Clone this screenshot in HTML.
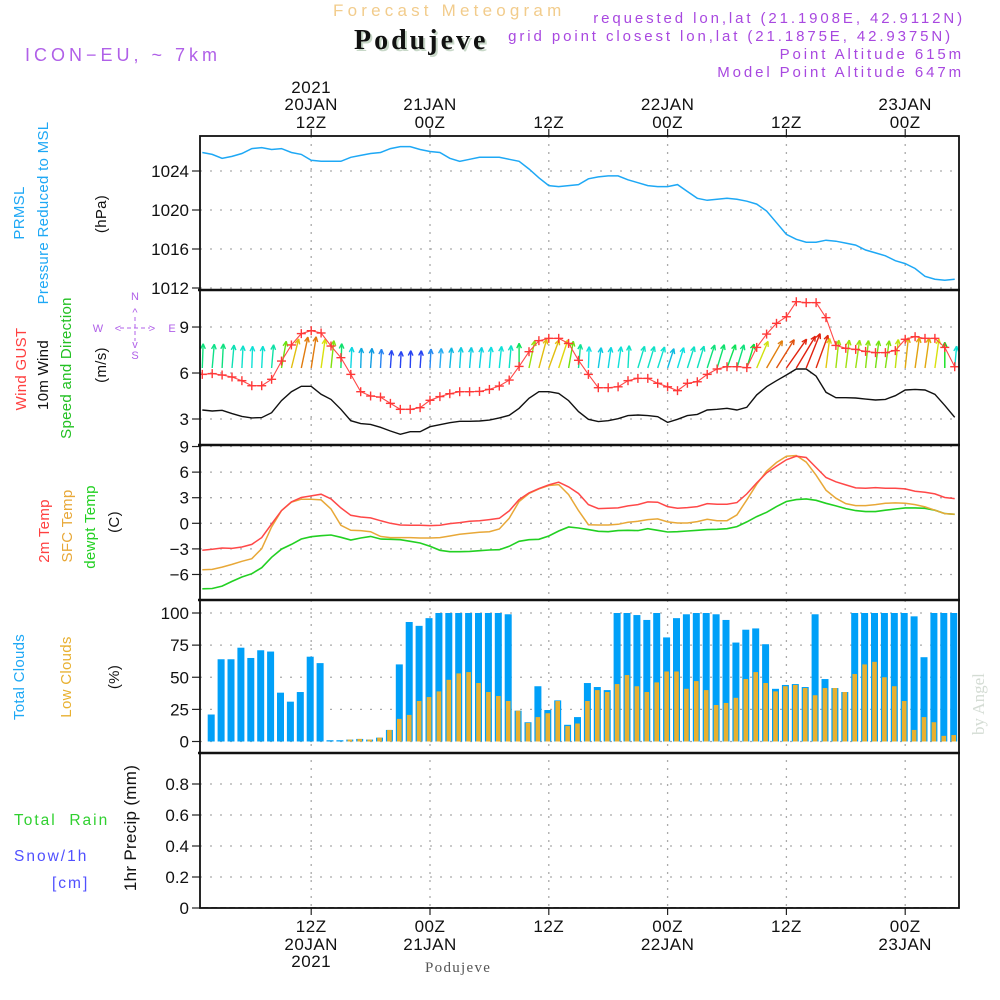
<!DOCTYPE html>
<html><head><meta charset="utf-8"><title>Meteogram Podujeve</title>
<style>
html,body{margin:0;padding:0;background:#fff;}
svg{display:block;font-family:"Liberation Sans",sans-serif;}
.pre{white-space:pre;}
</style></head>
<body>
<svg id="chart" width="1000" height="1000" viewBox="0 0 1000 1000" xmlns="http://www.w3.org/2000/svg">
<rect width="1000" height="1000" fill="#fff"/>
<g id="header">
 <text x="333" y="16" font-size="17" fill="#f2cc8c" letter-spacing="4.2">Forecast Meteogram</text>
 <text x="354" y="49" font-family="Liberation Serif,serif" font-weight="bold" font-size="28" fill="#c8d8c8" letter-spacing="3" transform="translate(2,2)">Podujeve</text>
 <text x="354" y="49" font-family="Liberation Serif,serif" font-weight="bold" font-size="28" fill="#111" letter-spacing="3">Podujeve</text>
 <text x="25" y="61" font-size="18" fill="#b060e8" letter-spacing="4">ICON−EU, ~ 7km</text>
 <g font-size="15" fill="#a848e0" text-anchor="end" letter-spacing="2.9">
  <text x="965" y="23">requested lon,lat (21.1908E, 42.9112N)</text>
  <text x="953" y="41">grid point closest lon,lat (21.1875E, 42.9375N)</text>
  <text x="964" y="59">Point Altitude 615m</text>
  <text x="964" y="77">Model Point Altitude 647m</text>
 </g>
</g>
<g id="labels"></g>
<g id="grid"></g>
<g id="marks"></g>
<g id="frame"></g>
<text transform="translate(984,735) rotate(-90)" font-family="Liberation Serif,serif" font-size="17" fill="#d4dcd4">by Angel</text>
<text x="425" y="972" font-family="Liberation Serif,serif" font-size="15" fill="#555" letter-spacing="1.3">Podujeve</text>
</svg>
<script>
// ---- data (hours from 00Z 20 JAN 2021) ----
const pressure = [1025.9,1025.7,1025.3,1025.5,1025.8,1026.3,1026.4,1026.2,1026.3,1025.9,1025.7,1025.1,1025.0,1025.0,1025.0,1025.4,1025.6,1025.8,1025.9,1026.3,1026.5,1026.5,1026.2,1026.0,1025.9,1025.3,1025.0,1025.2,1025.4,1025.4,1025.4,1025.2,1025.0,1024.2,1023.3,1022.5,1022.4,1022.5,1022.6,1023.2,1023.4,1023.5,1023.5,1023.1,1022.8,1022.5,1022.4,1022.4,1022.6,1021.9,1021.2,1021.0,1021.1,1021.2,1021.1,1020.9,1020.6,1019.9,1018.7,1017.5,1017.0,1016.7,1016.7,1016.9,1016.8,1016.6,1016.4,1015.9,1015.6,1015.3,1014.8,1014.5,1014.0,1013.2,1012.9,1012.8,1012.9];
const gust = [5.91,5.96,5.87,5.74,5.5,5.17,5.17,5.59,6.78,7.83,8.57,8.76,8.61,7.76,7.0,5.91,4.78,4.5,4.43,4.02,3.63,3.63,3.74,4.22,4.46,4.65,4.78,4.78,4.8,4.93,5.15,5.54,6.43,7.39,8.11,8.26,8.26,7.93,6.83,5.91,5.04,5.04,5.1,5.5,5.65,5.65,5.33,5.1,4.85,5.33,5.43,5.91,6.26,6.41,6.41,6.35,7.67,8.54,9.24,9.67,10.65,10.59,10.59,9.61,7.8,7.61,7.54,7.41,7.33,7.33,7.46,8.2,8.37,8.26,8.26,7.67,6.41];
const wind10 = [3.59,3.52,3.57,3.35,3.17,3.07,3.09,3.41,4.2,4.78,5.13,5.13,4.61,4.28,3.63,2.89,2.7,2.65,2.46,2.22,2.0,2.17,2.17,2.5,2.63,2.76,2.85,2.85,2.87,2.93,3.07,3.24,3.7,4.35,4.78,4.78,4.67,4.2,3.48,2.98,2.83,2.89,3.02,3.22,3.26,3.22,3.15,2.78,2.98,3.22,3.3,3.59,3.63,3.7,3.59,3.76,4.57,5.11,5.5,5.87,6.26,6.26,5.8,4.74,4.39,4.39,4.37,4.3,4.24,4.28,4.52,4.89,4.93,4.89,4.61,3.89,3.11];
const windDir = [2,5,3,5,3,2,3,5,10,14,12,9,8,6,2,3,2,4,3,4,3,2,4,3,4,5,4,5,6,5,6,5,0,12,15,20,18,10,5,2,8,8,8,3,17,17,18,18,17,18,17,18,17,20,17,17,23,30,32,35,31,22,20,7,6,7,8,6,7,8,6,6,8,8,8,0,5];
const temp2m = [-3.17,-3.05,-2.9,-2.94,-2.78,-2.47,-1.68,-0.08,1.49,2.51,3.02,3.21,3.41,2.86,1.8,0.94,0.74,0.63,0.31,0,-0.2,-0.23,-0.23,-0.27,-0.23,-0.04,0.08,0.23,0.31,0.43,0.59,1.45,2.78,3.56,4.07,4.5,4.82,4.27,3.49,2.19,1.72,1.76,1.8,2.04,2.19,2.51,2.47,1.96,1.76,1.84,1.96,2.31,2.23,2.23,2.43,3.45,4.74,5.91,6.7,7.44,7.87,7.71,6.54,5.37,4.86,4.5,4.15,4.11,4.19,4.11,4.11,4.03,3.76,3.64,3.45,3.02,2.9];
const tempSfc = [-5.44,-5.4,-5.13,-4.82,-4.46,-4.15,-2.98,-0.43,1.49,2.47,2.82,2.82,2.74,1.68,-0.23,-0.82,-0.86,-0.98,-1.53,-1.68,-1.68,-1.68,-1.72,-1.72,-1.68,-1.49,-1.29,-1.17,-1.06,-0.98,-0.67,0.59,2.55,3.49,4.03,4.43,4.54,3.37,1.49,-0.16,-0.2,-0.2,-0.12,0.12,0.23,0.43,0.51,0.16,0.04,0.04,0.2,0.47,0.31,0.31,0.98,2.74,4.58,6.11,7.13,7.87,7.95,7.17,5.64,3.88,2.94,2.31,2.08,2.08,2.19,2.35,2.39,2.35,2.19,1.92,1.53,1.14,1.06];
const dewpt = [-7.68,-7.64,-7.36,-6.81,-6.3,-5.91,-5.21,-3.99,-3.02,-2.47,-1.84,-1.57,-1.45,-1.37,-1.64,-1.96,-1.72,-1.53,-1.84,-1.88,-1.92,-2.11,-2.31,-2.7,-3.17,-3.33,-3.33,-3.29,-3.21,-3.13,-3.09,-2.7,-2.11,-1.92,-1.88,-1.49,-0.9,-0.43,-0.55,-0.74,-0.94,-0.98,-0.86,-0.82,-0.86,-0.63,-0.82,-1.02,-0.98,-0.9,-0.82,-0.74,-0.7,-0.63,-0.39,0.16,0.78,1.29,1.96,2.55,2.78,2.86,2.7,2.35,2.04,1.72,1.49,1.37,1.37,1.53,1.68,1.8,1.8,1.76,1.53,1.14,1.06];
// clouds start at hour 2
const totalClouds = [21,64,64,73,65,71,70,38,31,38.5,66,61,1,1,1.5,2,1.5,3,9,60,93,90,96,100,100,100,100,100,100,100,99,24,15,43,24.5,32,13,19,45.5,42.4,40,100,100,98.4,94.6,100,81,96,99,100,100,99,94.6,77,87,88,75.7,41,44,44.7,42.4,99,48.6,41.6,38.5,100,100,100,100,100,100,97.4,65.6,100,100,100];
const lowClouds = [0,0,0,0,0,0,0,0,0,0,0,0,0,0,1.5,2,1.5,3,9,17.6,20.7,31.5,34.6,39,48,53,54,45.5,38.5,35.4,31.5,24,14.5,19,22,31.5,12,14,31.5,40,38.5,44.7,51.7,43,38.5,46,54.5,54.5,41,47,40,28.4,30,34,48.6,54,45.5,39,43,44,41.6,36,41.6,41.6,38.5,52.5,60,62,50,43,31.5,9,19,15,4.4,5];
const precip = new Array(77).fill(0);
const firstHour = 1, cloudFirstHour = 2;
const presTicks = [1012,1016,1020,1024];
const windTicks = [3,6,9];
const tempTicks = [-6,-3,0,3,6,9];
const cloudTicks = [0,25,50,75,100];
const precipTicks = [0,0.2,0.4,0.6,0.8];
const timeHours = [12,24,36,48,60,72];
const topLabels = [["2021","20JAN","12Z"],["","21JAN","00Z"],["","","12Z"],["","22JAN","00Z"],["","","12Z"],["","23JAN","00Z"]];
const botLabels = [["12Z","20JAN","2021"],["00Z","21JAN",""],["12Z","",""],["00Z","22JAN",""],["12Z","",""],["00Z","23JAN",""]];

// ---- scales ----
const X0=200, X1=959;
const xh = h => 430 + (h-24)*9.9;
const yP = p => 288 - (p-1012)*9.75;
const yW = v => 419 - (v-3)*15.33;
const yT = t => 523.3 - t*8.53;
const yC = c => 741.5 - c*1.285;
const yR = r => 908 - r*155;
const NS="http://www.w3.org/2000/svg";
function mk(tag, attrs, parent){const e=document.createElementNS(NS,tag);for(const k in attrs)e.setAttribute(k,attrs[k]);parent.appendChild(e);return e;}
const G=document.getElementById('grid'), M=document.getElementById('marks'), F=document.getElementById('frame'), L=document.getElementById('labels');
const panels=[[136,290],[290,445],[445,600],[600,753],[753,908]];

const defs=mk('defs',{},document.getElementById('chart'));
panels.forEach((p,i)=>{const c=mk('clipPath',{id:'clip'+i},defs);mk('rect',{x:X0,y:p[0],width:X1-X0,height:p[1]-p[0]},c);});

timeHours.forEach(h=>{
  const gl=mk('line',{x1:xh(h),x2:xh(h),y1:136,y2:908,stroke:'#aaa','stroke-width':1.3,'stroke-dasharray':'2,6'},G);
  
  
  mk('line',{x1:xh(h),x2:xh(h),y1:129,y2:136,stroke:'#222','stroke-width':1.2},F);
  mk('line',{x1:xh(h),x2:xh(h),y1:908,y2:915,stroke:'#222','stroke-width':1.2},F);
});
function yAxis(ticks, sc, fmt, name){
  ticks.forEach(v=>{
    const y=sc(v);
    const gl=mk('line',{x1:X0,x2:X1,y1:y,y2:y,stroke:'#aaa','stroke-width':1.3,'stroke-dasharray':'2,8'},G);
    
    
    mk('line',{x1:X0-8,x2:X0,y1:y,y2:y,stroke:'#222','stroke-width':1.2},F);
    const t=mk('text',{x:X0-11,y:y+6,'text-anchor':'end','font-size':17,fill:'#111'},F);
    t.textContent=fmt(v);
    
    
  });
}
yAxis(presTicks,yP,v=>v,'pressure');
yAxis(windTicks,yW,v=>v,'wind');
yAxis(tempTicks,yT,v=>v<0?'−'+(-v):v,'temp');
yAxis(cloudTicks,yC,v=>v,'cloud');
yAxis(precipTicks,yR,v=>v===0?'0':v.toFixed(1),'precip');

timeHours.forEach((h,i)=>{
  [93,110,128].forEach((y,j)=>{ if(topLabels[i][j]){const t=mk('text',{x:xh(h),y:y,'text-anchor':'middle','font-size':17,fill:'#111','letter-spacing':0.5},F);t.textContent=topLabels[i][j];
    
    }});
  [932,950,967].forEach((y,j)=>{ if(botLabels[i][j]){const t=mk('text',{x:xh(h),y:y,'text-anchor':'middle','font-size':17,fill:'#111','letter-spacing':0.5},F);t.textContent=botLabels[i][j];
    
    }});
});

function line(arr, sc, color, clip, name, w){
  const pts=arr.map((v,i)=>xh(firstHour+i).toFixed(1)+','+sc(v).toFixed(1)).join(' ');
  const p=mk('polyline',{points:pts,fill:'none',stroke:color,'stroke-width':w||1.5,'clip-path':'url(#clip'+clip+')'},M);
  
  
  return p;
}
line(pressure,yP,'#1ea8f5',0,'pressure-line');

const cg=mk('g',{'clip-path':'url(#clip3)'},M);
totalClouds.forEach((v,i)=>{
  const x=xh(cloudFirstHour+i)-1;
  const b=mk('rect',{x:x-3.5,y:yC(v),width:7,height:yC(0)-yC(v),fill:'#00a0f8'},cg);
  
  
  const lv=lowClouds[i];
  if(lv>0){const lb=mk('rect',{x:x-2.3,y:yC(lv),width:4.6,height:yC(0)-yC(lv),fill:'#e8b030'},cg);
    
    }
});

function hueFor(s){
  const st=[[2.2,232],[2.9,182],[3.3,170],[3.6,150],[4.3,85],[4.7,55],[5.1,32],[5.9,5]];
  if(s<=st[0][0])return st[0][1];
  for(let i=1;i<st.length;i++){if(s<=st[i][0]){const a=st[i-1],b=st[i];return a[1]+(b[1]-a[1])*(s-a[0])/(b[0]-a[0]);}}
  return st[st.length-1][1];
}
const ag=mk('g',{'clip-path':'url(#clip1)'},M);
wind10.forEach((s,i)=>{
  const x=xh(firstHour+i), y=368;
  const a=windDir[i]*Math.PI/180, len=7+4.8*s;
  const tx=x+Math.sin(a)*len, ty=y-Math.cos(a)*len;
  const hu=hueFor(s);
  const col='hsl('+hu.toFixed(0)+',88%,'+(hu>200?'55%':'47%')+')';
  const g=mk('g',{stroke:col,'stroke-width':1.4,fill:'none'},ag);
  
  
  mk('line',{x1:x,y1:y,x2:tx,y2:ty},g);
  [25,-25].forEach(d=>{const b=a+Math.PI+d*Math.PI/180;mk('line',{x1:tx,y1:ty,x2:tx+Math.sin(b)*5.5,y2:ty-Math.cos(b)*5.5},g);});
});
line(wind10,yW,'#111',1,'wind-10m-line',1.4);
line(gust,yW,'#ff4848',1,'gust-line',1.1);
gust.forEach((v,i)=>{
  const x=xh(firstHour+i), y=yW(v);
  const g=mk('g',{stroke:'#ff3838','stroke-width':1.4,'clip-path':'url(#clip1)'},M);
  
  
  mk('line',{x1:x-4.5,x2:x+4.5,y1:y,y2:y},g);mk('line',{x1:x,x2:x,y1:y-4.5,y2:y+4.5},g);
});
line(dewpt,yT,'#22d022',2,'dewpoint-line',1.6);
line(tempSfc,yT,'#e8a838',2,'sfc-temp-line',1.5);
line(temp2m,yT,'#ff4848',2,'temp-2m-line',1.5);
line(precip,yR,'#111',4,'precip-line',1.5).setAttribute('stroke-dasharray','6,3');

mk('rect',{x:X0,y:136,width:X1-X0,height:772,fill:'none',stroke:'#111','stroke-width':1.8},F);
[290,445,600,753].forEach(y=>mk('line',{x1:X0-2,x2:X1+1,y1:y,y2:y,stroke:'#111','stroke-width':2.6},F));

function rl(txt,x,y,color,name,size){
  const t=mk('text',{transform:'translate('+x+','+y+') rotate(-90)','text-anchor':'middle','font-size':size||15,fill:color,'letter-spacing':0.3},L);
  t.textContent=txt;
  
  
}
rl('PRMSL',24,213,'#1ea8f5','prmsl-label');
rl('Pressure Reduced to MSL',48,213,'#1ea8f5','pressure-title');
rl('(hPa)',106,214,'#111','pressure-unit');
rl('Wind GUST',26,369,'#ff4040','gust-title');
rl('10m Wind',48,375,'#111','wind-10m-title');
rl('Speed and Direction',71,368,'#22c022','wind-direction-title');
rl('(m/s)',106,365,'#111','wind-unit');
rl('2m Temp',49,531,'#ff4040','temp-2m-title');
rl('SFC Temp',72,526,'#e8a838','sfc-temp-title');
rl('dewpt Temp',95,527,'#22d022','dewpoint-title');
rl('(C)',119,522,'#111','temp-unit');
rl('Total Clouds',24,677,'#1ea8f5','total-clouds-title');
rl('Low Clouds',71,677,'#e8b030','low-clouds-title');
rl('(%)',119,677,'#111','cloud-unit');
rl('1hr Precip (mm)',136,828,'#111','precip-title',17);
const cp=mk('g',{fill:'#b060e8','font-size':11,'text-anchor':'middle'},L);


[['N',135,300],['S',135,359],['W',98,332],['E',172,332],['^',135,316],['v',135,348],['<',118,332],['>',152,332]].forEach(d=>{const t=mk('text',{x:d[1],y:d[2]},cp);t.textContent=d[0];});
mk('line',{x1:120,x2:150,y1:328,y2:328,stroke:'#b060e8','stroke-dasharray':'4,3'},cp);
mk('line',{x1:135,x2:135,y1:317,y2:341,stroke:'#b060e8','stroke-dasharray':'4,3'},cp);
const pl=[['Total  Rain',14,825,'#30d030'],['Snow/1h',14,861,'#5050ff'],['[cm]',52,888,'#5050ff']];
pl.forEach(d=>{const t=mk('text',{x:d[1],y:d[2],'font-size':15.5,fill:d[3],'letter-spacing':2,'class':'pre'},L);t.textContent=d[0];
  
  });
</script>
</body></html>
